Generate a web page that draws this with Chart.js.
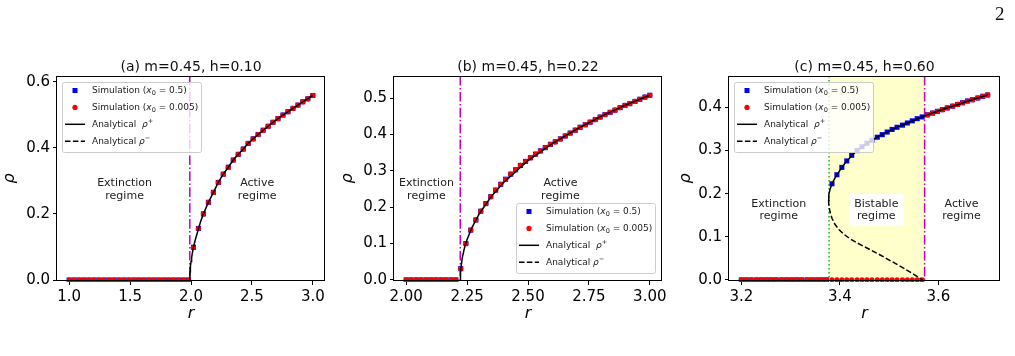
<!DOCTYPE html>
<html>
<head>
<meta charset="utf-8">
<script src="https://cdn.jsdelivr.net/npm/chart.js@4.4.0/dist/chart.umd.min.js"></script>
<style>
  body { margin: 0; background: #fff; width: 1015px; height: 356px; overflow: hidden; position: relative; }
  .panel { position: absolute; top: 0; height: 356px; }
  #pageNo { position: absolute; left: 995px; top: 4px; font: 19px 'Liberation Serif', serif; line-height: 19px; color: #111; }
</style>
</head>
<body>
<div class="panel" style="left:0"><canvas id="chartA" width="338" height="356"></canvas></div>
<div class="panel" style="left:338px"><canvas id="chartB" width="338" height="356"></canvas></div>
<div class="panel" style="left:676px"><canvas id="chartC" width="339" height="356"></canvas></div>
<div id="pageNo">2</div>
<script>
// ---- panel (a): m=0.45, h=0.10 ----
const rA = [1.000, 1.041, 1.082, 1.122, 1.163, 1.204, 1.245, 1.286, 1.327, 1.367,
            1.408, 1.449, 1.490, 1.531, 1.571, 1.612, 1.653, 1.694, 1.735, 1.776,
            1.816, 1.857, 1.898, 1.939, 1.980, 2.020, 2.061, 2.102, 2.143, 2.184,
            2.224, 2.265, 2.306, 2.347, 2.388, 2.429, 2.469, 2.510, 2.551, 2.592,
            2.633, 2.673, 2.714, 2.755, 2.796, 2.837, 2.878, 2.918, 2.959, 3.000];
const simA = [0, 0, 0, 0, 0, 0, 0, 0, 0, 0, 0, 0, 0, 0, 0, 0, 0, 0, 0, 0, 0, 0, 0, 0, 0,
              0.099, 0.156, 0.200, 0.235, 0.265, 0.295, 0.320, 0.341, 0.363, 0.380,
              0.396, 0.413, 0.427, 0.440, 0.453, 0.465, 0.477, 0.488, 0.499, 0.509,
              0.519, 0.529, 0.539, 0.548, 0.558];
const rPlusA = [1.990, 1.992, 1.995, 2.000, 2.005, 2.010, 2.020, 2.040, 2.061, 2.080, 2.102, 2.143, 2.184,
                2.224, 2.265, 2.306, 2.347, 2.388, 2.429, 2.469, 2.510, 2.592, 2.673, 2.755, 2.837, 2.918, 3.000];
const rhoPlusA = [0, 0.025, 0.040, 0.056, 0.068, 0.079, 0.099, 0.128, 0.154, 0.178, 0.200, 0.235, 0.265,
                  0.295, 0.320, 0.341, 0.363, 0.380, 0.396, 0.413, 0.427, 0.453, 0.477, 0.499, 0.519, 0.539, 0.558];
const rcA = 1.99;
const xTicksA = [1.0, 1.5, 2.0, 2.5, 3.0];
const yTicksA = [0.0, 0.2, 0.4, 0.6];

// ---- panel (b): m=0.45, h=0.22 ----
const rB = [2.000, 2.020, 2.041, 2.061, 2.082, 2.102, 2.122, 2.143, 2.163, 2.184,
            2.204, 2.224, 2.245, 2.265, 2.286, 2.306, 2.327, 2.347, 2.367, 2.388,
            2.408, 2.429, 2.449, 2.469, 2.490, 2.510, 2.531, 2.551, 2.571, 2.592,
            2.612, 2.633, 2.653, 2.673, 2.694, 2.714, 2.735, 2.755, 2.776, 2.796,
            2.816, 2.837, 2.857, 2.878, 2.898, 2.918, 2.939, 2.959, 2.980, 3.000];
const simB = [0, 0, 0, 0, 0, 0, 0, 0, 0, 0, 0,
              0.031, 0.100, 0.137, 0.165, 0.189, 0.210, 0.229, 0.247, 0.263, 0.277,
              0.291, 0.303, 0.315, 0.326, 0.336, 0.346, 0.355, 0.364, 0.373, 0.380,
              0.388, 0.396, 0.404, 0.412, 0.420, 0.427, 0.434, 0.441, 0.448, 0.455,
              0.461, 0.467, 0.474, 0.480, 0.485, 0.491, 0.497, 0.503, 0.508];
const rPlusB = [2.222, 2.223, 2.225, 2.230, 2.240, 2.250, 2.270, 2.300, 2.350, 2.400,
                2.500, 2.600, 2.700, 2.800, 2.900, 3.000];
const rhoPlusB = [0, 0.022, 0.035, 0.060, 0.090, 0.111, 0.144, 0.182, 0.230, 0.268,
                  0.328, 0.375, 0.415, 0.450, 0.481, 0.508];
const rcB = 2.222;
const xTicksB = [2.00, 2.25, 2.50, 2.75, 3.00];
const yTicksB = [0.0, 0.1, 0.2, 0.3, 0.4, 0.5];

// ---- panel (c): m=0.45, h=0.60 ----
const rC = [3.200, 3.210, 3.220, 3.231, 3.241, 3.251, 3.261, 3.271, 3.282, 3.292,
            3.302, 3.312, 3.322, 3.333, 3.343, 3.353, 3.363, 3.373, 3.384, 3.394,
            3.404, 3.414, 3.424, 3.435, 3.445, 3.455, 3.465, 3.476, 3.486, 3.496,
            3.506, 3.516, 3.527, 3.537, 3.547, 3.557, 3.567, 3.578, 3.588, 3.598,
            3.608, 3.618, 3.629, 3.639, 3.649, 3.659, 3.669, 3.680, 3.690, 3.700];
const simHighC = [0, 0, 0, 0, 0, 0, 0, 0, 0, 0, 0, 0, 0, 0, 0, 0, 0, 0,
                  0.223, 0.244, 0.261, 0.276, 0.289, 0.300, 0.309, 0.317, 0.324, 0.331,
                  0.337, 0.343, 0.349, 0.354, 0.359, 0.364, 0.369, 0.374, 0.378, 0.383,
                  0.387, 0.391, 0.395, 0.399, 0.403, 0.407, 0.411, 0.415, 0.418, 0.422,
                  0.426, 0.429];
const simLowC = [0, 0, 0, 0, 0, 0, 0, 0, 0, 0, 0, 0, 0, 0, 0, 0, 0, 0, 0, 0,
                 0, 0, 0, 0, 0, 0, 0, 0, 0, 0, 0, 0, 0, 0, 0, 0, 0,
                 0.383, 0.387, 0.391, 0.395, 0.399, 0.403, 0.407, 0.411, 0.415, 0.418,
                 0.422, 0.426, 0.429];
const rPlusC = [3.377, 3.3775, 3.378, 3.380, 3.384, 3.390, 3.400, 3.410, 3.420, 3.430, 3.440,
                3.460, 3.480, 3.500, 3.520, 3.540, 3.560, 3.580, 3.600, 3.620, 3.640,
                3.660, 3.680, 3.700];
const rhoPlusC = [0.185, 0.195, 0.200, 0.210, 0.223, 0.236, 0.254, 0.270, 0.283, 0.295, 0.305,
                  0.320, 0.334, 0.345, 0.356, 0.365, 0.375, 0.384, 0.392, 0.400, 0.407,
                  0.415, 0.422, 0.429];
const rMinusC = [3.377, 3.378, 3.380, 3.384, 3.390, 3.398, 3.408, 3.420, 3.435, 3.455,
                 3.480, 3.505, 3.530, 3.550, 3.568];
const rhoMinusC = [0.185, 0.170, 0.158, 0.143, 0.129, 0.117, 0.106, 0.096, 0.086, 0.074,
                   0.059, 0.043, 0.027, 0.013, 0];
const rFoldC = 3.378;
const rcC = 3.572;
const xTicksC = [3.2, 3.4, 3.6];
const yTicksC = [0.0, 0.1, 0.2, 0.3, 0.4];

const FONT = "'DejaVu Sans', sans-serif";
const MAGENTA = '#c000c0';
const DASHDOT = [9.6, 2.4, 1.5, 2.4];

function pts(xs, ys) {
  return xs.map((x, i) => ({ x: x, y: ys[i] }));
}

function simSet(xs, ys, color, style, radius, order) {
  return {
    data: pts(xs, ys), pointStyle: style, pointRadius: radius, pointHoverRadius: radius,
    backgroundColor: color, borderColor: color, borderWidth: 0, order: order, clip: 1
  };
}

function curveSet(xs, ys, dash) {
  return {
    data: pts(xs, ys), showLine: true, pointRadius: 0, borderColor: '#000',
    borderWidth: 1.5, borderDash: dash, tension: 0, order: 0, clip: 1
  };
}

// legend text, with the little math bits done by hand
const LN = '9px ' + FONT, LI = 'italic 9px ' + FONT, LS = '6.5px ' + FONT;
const legendRows = [
  { kind: 'rect', color: '#0000ff', text: [['Simulation (', LN], ['x', LI], ['0', LS, 2.5], [' = 0.5)', LN]] },
  { kind: 'circle', color: '#ff0000', text: [['Simulation (', LN], ['x', LI], ['0', LS, 2.5], [' = 0.005)', LN]] },
  { kind: 'line', dash: [], text: [['Analytical  ', LN], ['\u03c1', LI], ['+', LS, -3]] },
  { kind: 'line', dash: [5.5, 2.4], text: [['Analytical ', LN], ['\u03c1', LI], ['\u2212', LS, -3]] }
];

function drawRich(ctx, x, y, segs) {
  ctx.textAlign = 'left';
  ctx.textBaseline = 'middle';
  ctx.fillStyle = '#222';
  segs.forEach(s => {
    ctx.font = s[1];
    ctx.fillText(s[0], x, y + (s[2] || 0));
    x += ctx.measureText(s[0]).width;
  });
}

function drawLegend(ctx, bx, by) {
  const w = 139, h = 70;
  ctx.fillStyle = 'rgba(255,255,255,0.8)';
  ctx.strokeStyle = '#cccccc';
  ctx.lineWidth = 1;
  ctx.beginPath();
  ctx.roundRect(bx + 0.5, by + 0.5, w, h, 2);
  ctx.fill();
  ctx.stroke();
  legendRows.forEach((row, i) => {
    const cy = by + 8.5 + i * 16.9, hx = bx + 13;
    if (row.kind === 'rect') {
      ctx.fillStyle = row.color;
      ctx.fillRect(hx - 2.5, cy - 2.5, 5, 5);
    } else if (row.kind === 'circle') {
      ctx.fillStyle = row.color;
      ctx.beginPath();
      ctx.arc(hx, cy, 2.6, 0, 2 * Math.PI);
      ctx.fill();
    } else {
      ctx.strokeStyle = '#000';
      ctx.lineWidth = 1.5;
      ctx.setLineDash(row.dash);
      ctx.beginPath();
      ctx.moveTo(bx + 3, cy);
      ctx.lineTo(bx + 23, cy);
      ctx.stroke();
      ctx.setLineDash([]);
    }
    drawRich(ctx, bx + 30, cy, row.text);
  });
}

// shading, threshold lines, regime notes, frame, legend and title
const decor = {
  id: 'decor',
  beforeDatasetsDraw(chart, args, o) {
    const { ctx, chartArea: a, scales: { x, y } } = chart;
    ctx.save();
    ctx.beginPath();
    ctx.rect(a.left, a.top, a.width, a.height);
    ctx.clip();
    if (o.span) {
      const x0 = x.getPixelForValue(o.span[0]), x1 = x.getPixelForValue(o.span[1]);
      ctx.fillStyle = '#ffffcc';
      ctx.fillRect(x0, a.top, x1 - x0, a.height);
    }
    o.vlines.forEach(v => {
      const px = x.getPixelForValue(v.x);
      ctx.beginPath();
      ctx.setLineDash(v.dash);
      ctx.strokeStyle = v.color;
      ctx.lineWidth = v.width;
      ctx.moveTo(px, a.top);
      ctx.lineTo(px, a.bottom);
      ctx.stroke();
    });
    ctx.setLineDash([]);
    ctx.font = '11px ' + FONT;
    ctx.textAlign = 'center';
    ctx.textBaseline = 'middle';
    o.notes.forEach(n => {
      const px = x.getPixelForValue(n.x), py = y.getPixelForValue(n.y);
      if (n.box) {
        ctx.fillStyle = '#fff';
        ctx.fillRect(px - 27, py - 16, 54, 32);
      }
      ctx.fillStyle = '#222';
      n.lines.forEach((t, i) => ctx.fillText(t, px, py + (i - (n.lines.length - 1) / 2) * 12.5));
    });
    ctx.restore();
  },
  afterDatasetsDraw(chart, args, o) {
    const { ctx, chartArea: a } = chart;
    ctx.save();
    ctx.strokeStyle = '#000';
    ctx.lineWidth = 1;
    const L = a.left - 0.5, R = a.right - 0.5, T = a.top + 0.5, B = a.bottom - 0.5;
    ctx.strokeRect(L, T, R - L, B - T);
    if (o.legend === 'tl') drawLegend(ctx, a.left + 5, a.top + 6);
    else drawLegend(ctx, a.right - 6 - 140, a.bottom - 8 - 70);
    ctx.restore();
  },
  afterDraw(chart, args, o) {
    const { ctx, chartArea: a } = chart;
    ctx.save();
    ctx.font = '14px ' + FONT;
    ctx.fillStyle = '#111';
    ctx.textAlign = 'center';
    ctx.textBaseline = 'alphabetic';
    ctx.fillText(o.title, (a.left + a.right) / 2, a.top - 5);
    ctx.restore();
  }
};

function axis(min, max, tickVals, dec, label, horizontal, yWidth) {
  return {
    type: 'linear', min: min, max: max,
    afterBuildTicks: s => { s.ticks = tickVals.map(v => ({ value: v })); },
    afterFit: s => { if (horizontal) s.height = 48; else s.width = yWidth; },
    ticks: {
      autoSkip: false, maxRotation: 0, padding: 3, color: '#000',
      font: { family: FONT, size: 15 },
      callback: v => v.toFixed(dec)
    },
    grid: { display: true, drawOnChartArea: false, drawTicks: true, tickLength: 4, color: '#000', lineWidth: 1 },
    border: { display: false },
    title: {
      display: true, text: label, color: '#000',
      font: { family: FONT, size: 16, style: 'italic' },
      padding: horizontal ? { top: 0, bottom: 6 } : { top: 0, bottom: 0 }
    }
  };
}

function makePanel(id, p) {
  return new Chart(document.getElementById(id), {
    type: 'scatter',
    data: { datasets: p.datasets },
    options: {
      responsive: false,
      animation: false,
      events: [],
      layout: { padding: { top: 76, left: 0, right: p.padRight, bottom: 27 } },
      scales: {
        x: axis(p.x[0], p.x[1], p.xTicks, p.xDec, 'r', true, 0),
        y: axis(p.y[0], p.y[1], p.yTicks, 1, '\u03c1', false, p.yWidth)
      },
      plugins: { legend: { display: false }, tooltip: { enabled: false }, decor: p.decor }
    },
    plugins: [decor]
  });
}

makePanel('chartA', {
  x: [0.9, 3.1], y: [-0.003, 0.617], xTicks: xTicksA, yTicks: yTicksA, xDec: 1,
  yWidth: 57, padRight: 13,
  datasets: [
    curveSet(rPlusA, rhoPlusA, []),
    simSet(rA, simA, '#ff0000', 'circle', 2.6, 1),
    simSet(rA, simA, '#0000ff', 'rect', 3.6, 2)
  ],
  decor: {
    title: '(a) m=0.45, h=0.10', legend: 'tl', span: null,
    vlines: [{ x: rcA, color: MAGENTA, dash: DASHDOT, width: 1.5 }],
    notes: [
      { x: 1.455, y: 0.274, lines: ['Extinction', 'regime'] },
      { x: 2.543, y: 0.274, lines: ['Active', 'regime'] }
    ]
  }
});

makePanel('chartB', {
  x: [1.95, 3.05], y: [-0.003, 0.561], xTicks: xTicksB, yTicks: yTicksB, xDec: 2,
  yWidth: 56, padRight: 14,
  datasets: [
    curveSet(rPlusB, rhoPlusB, []),
    simSet(rB, simB, '#ff0000', 'circle', 2.6, 1),
    simSet(rB, simB, '#0000ff', 'rect', 3.6, 2)
  ],
  decor: {
    title: '(b) m=0.45, h=0.22', legend: 'br', span: null,
    vlines: [{ x: rcB, color: MAGENTA, dash: DASHDOT, width: 1.5 }],
    notes: [
      { x: 2.083, y: 0.249, lines: ['Extinction', 'regime'] },
      { x: 2.633, y: 0.249, lines: ['Active', 'regime'] }
    ]
  }
});

makePanel('chartC', {
  x: [3.175, 3.725], y: [-0.0025, 0.473], xTicks: xTicksC, yTicks: yTicksC, xDec: 1,
  yWidth: 53, padRight: 15,
  datasets: [
    curveSet(rPlusC, rhoPlusC, []),
    curveSet(rMinusC, rhoMinusC, [5.5, 2.4]),
    simSet(rC, simLowC, '#ff0000', 'circle', 2.6, 1),
    simSet(rC, simHighC, '#0000ff', 'rect', 3.6, 2)
  ],
  decor: {
    title: '(c) m=0.45, h=0.60', legend: 'tl', span: [rFoldC, rcC],
    vlines: [
      { x: rFoldC, color: '#00a000', dash: [1.5, 2.5], width: 1.3 },
      { x: rcC, color: MAGENTA, dash: DASHDOT, width: 1.5 }
    ],
    notes: [
      { x: 3.276, y: 0.162, lines: ['Extinction', 'regime'] },
      { x: 3.474, y: 0.162, lines: ['Bistable', 'regime'], box: true },
      { x: 3.647, y: 0.162, lines: ['Active', 'regime'] }
    ]
  }
});
</script>
</body>
</html>
